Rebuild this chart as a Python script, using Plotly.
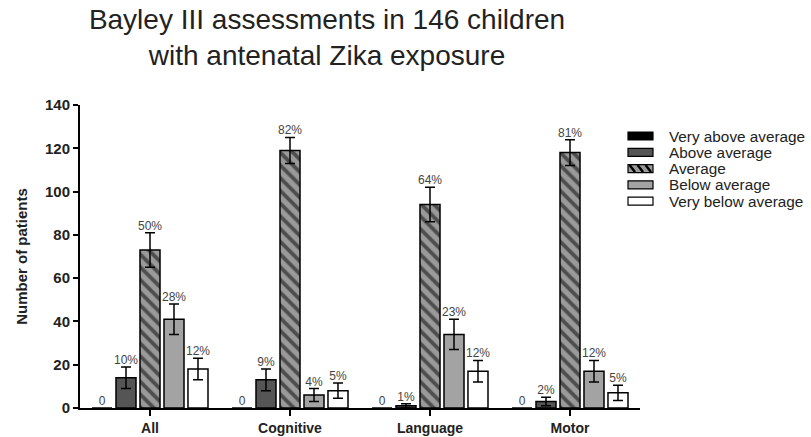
import plotly.graph_objects as go

categories = ["All", "Cognitive", "Language", "Motor"]
levels = ["Very above average", "Above average", "Average", "Below average", "Very below average"]

very_above = [0, 0, 0, 0]
above = [14, 13, 1, 3]
average = [73, 119, 94, 118]
below = [41, 6, 34, 17]
very_below = [18, 8, 17, 7]

err_above = [5, 5, 1, 2]
err_average = [8, 6, 8, 6]
err_below = [7, 3, 7, 5]
err_very_below = [5, 3.5, 5, 3.5]

lbl_very_above = ["0", "0", "0", "0"]
lbl_above = ["10%", "9%", "1%", "2%"]
lbl_average = ["50%", "82%", "64%", "81%"]
lbl_below = ["28%", "4%", "23%", "12%"]
lbl_very_below = ["12%", "5%", "12%", "5%"]

# styling
FONT = "Liberation Sans, Arial, sans-serif"
W, H = 811, 437
ML, MR, MT, MB = 80, 171, 105, 29
PW, PH = W - ML - MR, H - MT - MB
slot = 0.1714
bar_w = 0.143

series = [
    (levels[0], very_above, None, lbl_very_above, dict(color="#000000")),
    (levels[1], above, err_above, lbl_above, dict(color="#555555")),
    (levels[2], average, err_average, lbl_average,
     dict(color="#9a9a9a", pattern=dict(shape="\\", fgcolor="#000000", bgcolor="#9a9a9a",
                                         size=9, solidity=0.42))),
    (levels[3], below, err_below, lbl_below, dict(color="#a3a3a3")),
    (levels[4], very_below, err_very_below, lbl_very_below, dict(color="#ffffff")),
]

fig = go.Figure()
for k, (name, vals, errs, lbls, mk) in enumerate(series):
    xs = [i + (k - 2) * slot for i in range(len(categories))]
    marker = dict(mk)
    marker["line"] = dict(color="#000000", width=1.5)
    bar = go.Bar(x=xs, y=vals, width=bar_w, name=name, marker=marker, showlegend=False)
    if errs is not None:
        bar.error_y = dict(type="data", array=errs, visible=True, color="#000000",
                           thickness=1.5, width=5)
    fig.add_trace(bar)
    ytxt = [v + (e if errs is not None else 0) for v, e in
            zip(vals, errs if errs is not None else [0] * len(vals))]
    fig.add_trace(go.Scatter(x=xs, y=ytxt, mode="text", text=lbls, textposition="top center",
                             textfont=dict(family=FONT, size=12, color="#444444"),
                             showlegend=False, cliponaxis=False, hoverinfo="skip"))

# custom legend (wide swatches like the original)
def px_x(px):
    return (px - ML) / PW

def px_y(py):
    return (H - MB - py) / PH

fills = ["#000000", "#555555", "#9a9a9a", "#a3a3a3", "#ffffff"]
shapes = []
annotations = []
for j, name in enumerate(levels):
    cy = 136 + j * 16.3
    shapes.append(dict(type="rect", xref="paper", yref="paper",
                       x0=px_x(628), x1=px_x(653), y0=px_y(cy + 4), y1=px_y(cy - 4),
                       fillcolor=fills[j], line=dict(color="#000000", width=1.2)))
    if j == 2:
        for x0 in (629.5, 637.5, 645.5):
            shapes.append(dict(type="line", xref="paper", yref="paper",
                               x0=px_x(x0), x1=px_x(x0 + 5.5), y0=px_y(cy - 3.5), y1=px_y(cy + 3.5),
                               line=dict(color="#000000", width=2.5)))
    annotations.append(dict(x=px_x(667), y=px_y(cy), xref="paper", yref="paper",
                            text=name, showarrow=False, xanchor="left", yanchor="middle",
                            font=dict(family=FONT, size=15.3, color="#222222")))

fig.update_layout(
    width=W, height=H,
    margin=dict(l=ML, r=MR, t=MT, b=MB, autoexpand=False),
    paper_bgcolor="white", plot_bgcolor="white",
    barmode="overlay",
    showlegend=False,
    title=dict(text="Bayley III assessments in 146 children<br>with antenatal Zika exposure",
               x=327 / W, xanchor="center", xref="container",
               y=1 - 29 / H, yanchor="top", yref="container",
               font=dict(family=FONT, size=28, color="#222222")),
    font=dict(family=FONT, color="#222222"),
    shapes=shapes,
    annotations=annotations,
)
fig.update_xaxes(
    range=[-0.5, 3.5], tickmode="array", tickvals=list(range(len(categories))),
    ticktext=categories, showline=True, linecolor="#000000", linewidth=2,
    ticks="outside", ticklen=6, tickwidth=2, tickcolor="#000000",
    tickfont=dict(family=FONT, size=14, weight="bold", color="#222222"),
    showgrid=False, zeroline=False,
)
fig.update_yaxes(
    range=[0, 140], dtick=20, showline=True, linecolor="#000000", linewidth=2,
    ticks="outside", ticklen=5, tickwidth=2, tickcolor="#000000",
    tickfont=dict(family=FONT, size=15, weight="bold", color="#222222"),
    title=dict(text="Number of patients", standoff=14,
               font=dict(family=FONT, size=15, weight="bold", color="#222222")),
    showgrid=False, zeroline=False,
)

fig.write_html("out.html", config={"displayModeBar": False},
               post_script="document.body.style.margin='0px';")
